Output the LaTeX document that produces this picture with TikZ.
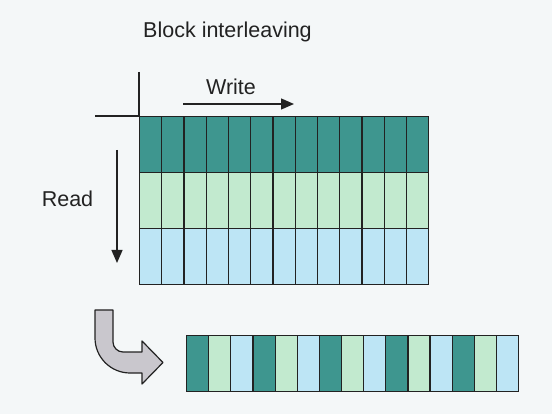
\documentclass[tikz,border=0pt]{standalone}
\usepackage{fontspec}
\setmainfont{Liberation Sans}
\usetikzlibrary{arrows.meta}

\definecolor{paper}{HTML}{F4F7F8}
\definecolor{ink}{HTML}{222222}
\definecolor{teal}{HTML}{3E968F}
\definecolor{mint}{HTML}{C2EACF}
\definecolor{sky}{HTML}{BDE5F5}
\definecolor{arrowgray}{HTML}{C9C7CD}

\tikzset{
  label/.style={text=ink, font=\fontsize{21.5}{24}\selectfont, anchor=base, inner sep=0pt},
  gridcell/.style={draw=ink, line width=1.2pt, inner sep=0pt, minimum width=22.23pt, minimum height=56pt, anchor=north west},
  stripcell/.style={draw=ink, line width=1.2pt, inner sep=0pt, minimum width=22.13pt, minimum height=56pt, anchor=north west},
  axisline/.style={draw=ink, line width=1.2pt},
  dirarrow/.style={draw=ink, line width=1.3pt, -{Triangle[length=13pt,width=11pt]}},
  bigarrow/.style={draw=ink, line width=1.2pt, fill=arrowgray, line join=round}
}

\begin{document}
\begin{tikzpicture}[x=1pt, y=-1pt]
  \fill[paper] (0,0) rectangle (552,414);
  \useasboundingbox (0,0) rectangle (552,414);

  % title and direction labels
  \node[label] (title) at (227.5,37.5) {Block interleaving};
  \node[label] (write) at (231,95) {Write};
  \node[label] (read) at (67.5,206.5) {Read};

  % corner axes of the matrix
  \coordinate (axtop) at (139,72);
  \coordinate (axcorner) at (139,116);
  \coordinate (axleft) at (95,116);
  \draw[axisline] (axtop) -- (axcorner) -- (axleft);

  % write / read directions
  \coordinate (wstart) at (183,104);
  \coordinate (wend) at (294,104);
  \draw[dirarrow] (wstart) -- (wend);
  \coordinate (rstart) at (117,150);
  \coordinate (rend) at (117,263);
  \draw[dirarrow] (rstart) -- (rend);

  % 3 x 13 interleaver matrix, filled row by row
  \foreach \r/\col in {0/teal,1/mint,2/sky}{
    \foreach \c in {0,...,12}{
      \node[gridcell, fill=\col] (cell-\r-\c) at ({139+22.23*\c},{116+56*\r}) {};
    }
  }

  % output sequence, read column by column
  \foreach \c in {0,...,14}{
    \pgfmathtruncatemacro{\k}{mod(\c,3)}
    \ifcase\k \def\col{teal}\or \def\col{mint}\or \def\col{sky}\fi
    \node[stripcell, fill=\col] (out-\c) at ({186+22.13*\c},335) {};
  }

  % bent arrow leading to the output sequence
  \draw[bigarrow]
    (95,310) -- (95,338)
    .. controls (95,357.3) and (110.7,373) .. (130,373)
    -- (142,373) -- (142,384) -- (163,362.5) -- (142,341) -- (142,352)
    -- (123,352)
    .. controls (117.5,352) and (113,347.5) .. (113,342)
    -- (113,310) -- cycle;
\end{tikzpicture}
\end{document}
